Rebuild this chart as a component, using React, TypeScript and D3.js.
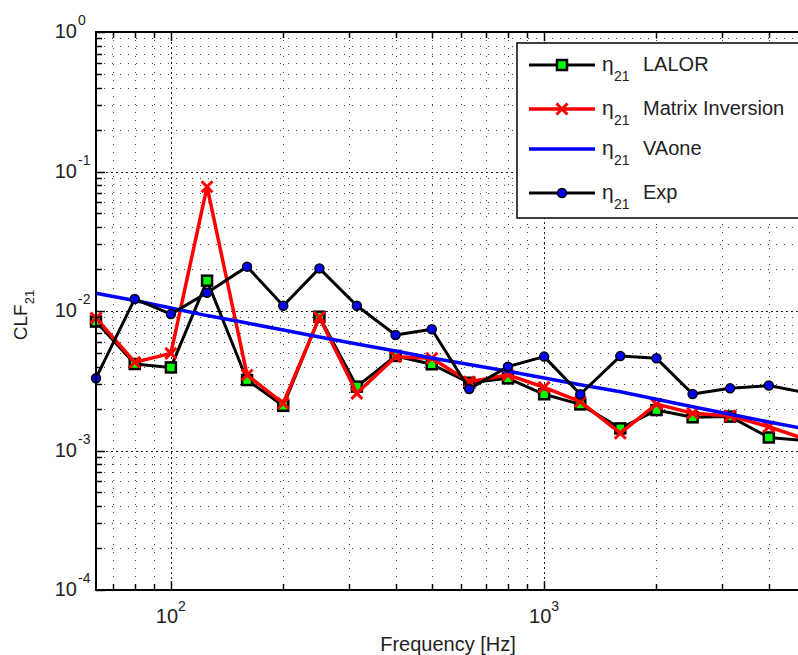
import React from "react";
import * as d3 from "d3";

// 1/3 octave band centre frequencies [Hz]
const freqs = [63, 80, 100, 125, 160, 200, 250, 315, 400, 500, 630, 800, 1000, 1250, 1600, 2000, 2500, 3150, 4000, 5000];

// CLF21 series
const lalor = [0.0084, 0.00417, 0.00394, 0.0165, 0.0032, 0.00209, 0.0091, 0.00287, 0.00476, 0.00415, 0.00306, 0.00329, 0.00253, 0.00214, 0.00144, 0.00195, 0.00173, 0.00175, 0.00124, 0.00118];
const matInv = [0.0089, 0.00429, 0.00497, 0.0778, 0.00348, 0.00218, 0.009, 0.00257, 0.0047, 0.00458, 0.00311, 0.00348, 0.00284, 0.00224, 0.00133, 0.00215, 0.00185, 0.00177, 0.00148, 0.00121];
const vaone = [0.0134, 0.0119, 0.0105, 0.00927, 0.0082, 0.0073, 0.00651, 0.0058, 0.00516, 0.0046, 0.00413, 0.0037, 0.00331, 0.00296, 0.00264, 0.00233, 0.00206, 0.00182, 0.0016, 0.00143];
const expData = [0.0033, 0.0122, 0.0095, 0.0135, 0.0208, 0.0109, 0.0202, 0.0109, 0.00673, 0.0074, 0.00276, 0.00399, 0.00471, 0.00253, 0.00475, 0.00458, 0.00254, 0.00279, 0.00292, 0.0026];

const legendLabels = ["LALOR", "Matrix Inversion", "VAone", "Exp"];
const yTickExps = ["0", "-1", "-2", "-3", "-4"];
const xTickExps = ["2", "3"];

const W = 798;
const H = 655;
const left = 96;
const right = 805;
const top = 32;
const bottom = 590;
const font = "'Liberation Sans', Arial, Helvetica, sans-serif";

const x = d3.scaleLog().domain([63, 5000]).range([left, right]);
const y = d3.scaleLog().domain([1e-4, 1]).range([bottom, top]);

const isMajor = (v: number) => Math.abs(Math.log10(v) - Math.round(Math.log10(v))) < 1e-6;

const line = d3
  .line<number>()
  .x((_, i) => x(freqs[i]))
  .y((d) => y(d));

const Square = ({ cx, cy }: { cx: number; cy: number }) => (
  <rect x={cx - 5} y={cy - 5} width={10} height={10} fill="#00ff00" stroke="#000" strokeWidth={2.5} />
);
const Dot = ({ cx, cy }: { cx: number; cy: number }) => (
  <circle cx={cx} cy={cy} r={4.5} fill="#0000ff" stroke="#000" strokeWidth={1.5} />
);
const Cross = ({ cx, cy }: { cx: number; cy: number }) => (
  <path
    d={`M${cx - 5.5},${cy - 5.5}L${cx + 5.5},${cy + 5.5}M${cx - 5.5},${cy + 5.5}L${cx + 5.5},${cy - 5.5}`}
    stroke="#ff0000"
    strokeWidth={3}
  />
);

export default function App() {
  const xTicks = x.ticks();
  const yTicks = y.ticks();

  const series = [
    { data: lalor, color: "#000", width: 3, Marker: Square },
    { data: matInv, color: "#ff0000", width: 3.5, Marker: Cross },
    { data: vaone, color: "#0000ff", width: 3.5, Marker: null },
    { data: expData, color: "#000", width: 3, Marker: Dot },
  ];

  const legendRows = [65, 109, 149, 193];

  return (
    <svg
      width={W}
      height={H}
      style={{ position: "absolute", left: 0, top: 0, background: "#fff" }}
      fontFamily={font}
    >
      <rect x={0} y={0} width={W} height={H} fill="#fff" />
      {/* grid */}
      <g stroke="#000" strokeWidth={1} fill="none">
        {xTicks.map((t) => (
          <line
            key={"gx" + t}
            x1={Math.round(x(t)) + 0.5}
            x2={Math.round(x(t)) + 0.5}
            y1={top}
            y2={bottom}
            strokeDasharray={isMajor(t) ? "2,3" : "1,7"}
            strokeOpacity={isMajor(t) ? 0.9 : 0.75}
          />
        ))}
        {yTicks.map((t) => (
          <line
            key={"gy" + t}
            x1={left}
            x2={right}
            y1={Math.round(y(t)) + 0.5}
            y2={Math.round(y(t)) + 0.5}
            strokeDasharray={isMajor(t) ? "2,3" : "1,7"}
            strokeOpacity={isMajor(t) ? 0.9 : 0.75}
          />
        ))}
      </g>

      {/* series */}
      {series.map((s, si) => (
        <g key={"s" + si}>
          <path d={line(s.data) || ""} fill="none" stroke={s.color} strokeWidth={s.width} strokeLinejoin="round" />
          {s.Marker &&
            s.data.map((v, i) => <s.Marker key={i} cx={x(freqs[i])} cy={y(v)} />)}
        </g>
      ))}

      {/* axes box and ticks */}
      <g stroke="#000" strokeWidth={2} fill="none">
        <rect x={left} y={top} width={right - left} height={bottom - top} />
        {xTicks.map((t) => {
          const len = isMajor(t) ? 9 : 6;
          const px = Math.round(x(t)) + 0.5;
          return (
            <g key={"tx" + t} strokeWidth={1.5}>
              <line x1={px} x2={px} y1={bottom} y2={bottom - len} />
              <line x1={px} x2={px} y1={top} y2={top + len} />
            </g>
          );
        })}
        {yTicks.map((t) => {
          const len = isMajor(t) ? 9 : 6;
          const py = Math.round(y(t)) + 0.5;
          return <line key={"ty" + t} x1={left} x2={left + len} y1={py} y2={py} strokeWidth={1.5} />;
        })}
      </g>

      {/* y tick labels */}
      {yTicks.filter(isMajor).map((t) => {
        const py = y(t);
        const e = yTickExps[Math.round(-Math.log10(t))];
        return (
          <g key={"ly" + t} fill="#222">
            <text x={77} y={py + 6} fontSize={20} textAnchor="end">
              10
            </text>
            <text x={78} y={py - 7} fontSize={14}>
              {e}
            </text>
          </g>
        );
      })}

      {/* x tick labels */}
      {xTicks.filter(isMajor).map((t, i) => (
        <text key={"lx" + t} x={x(t)} y={623} fontSize={20} textAnchor="middle" fill="#222">
          10
          <tspan dy={-12} fontSize={14}>
            {xTickExps[i]}
          </tspan>
        </text>
      ))}

      {/* axis labels */}
      <text x={448} y={651} fontSize={20} textAnchor="middle" fill="#222">
        Frequency [Hz]
      </text>
      <text transform={`translate(27, 315) rotate(-90)`} fontSize={19} textAnchor="middle" fill="#222">
        CLF
        <tspan dy={7} fontSize={13}>
          21
        </tspan>
      </text>

      {/* legend */}
      <rect x={517} y={43} width={300} height={175} fill="#fff" stroke="#000" strokeWidth={1.5} />
      {series.map((s, i) => {
        const ry = legendRows[i];
        return (
          <g key={"lg" + i}>
            <line x1={529} x2={595} y1={ry} y2={ry} stroke={s.color} strokeWidth={s.width} />
            {s.Marker && <s.Marker cx={562} cy={ry} />}
            <text x={602} y={ry + 6} fontSize={21} fill="#222">
              η
            </text>
            <text x={614} y={ry + 16} fontSize={14} fill="#222">
              21
            </text>
            <text x={643} y={ry + 6} fontSize={20} fill="#222">
              {legendLabels[i]}
            </text>
          </g>
        );
      })}
    </svg>
  );
}
